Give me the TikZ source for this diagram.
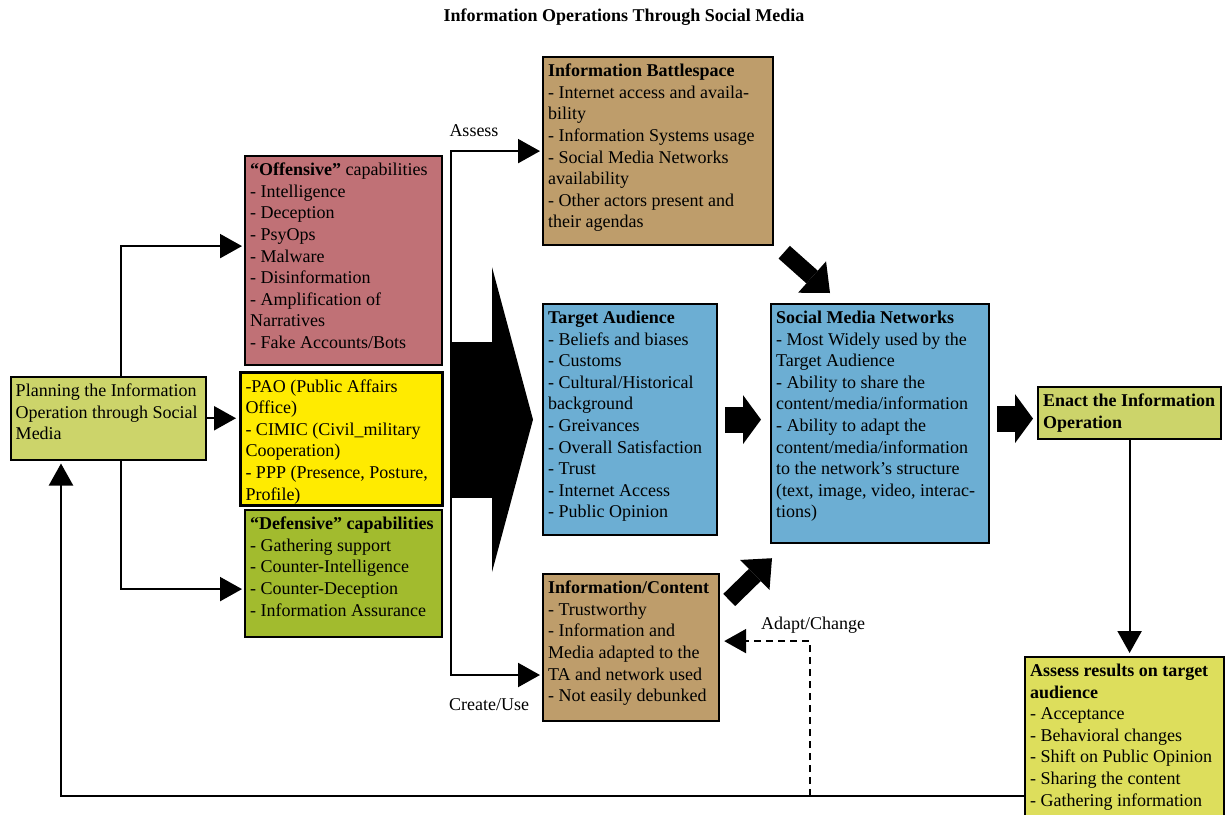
\documentclass[tikz,border=0pt]{standalone}
\usepackage{fontspec}
\setmainfont{Liberation Serif}
\usepackage{xcolor}
\usetikzlibrary{arrows.meta,calc}
\definecolor{planolive}{RGB}{204,212,106}
\definecolor{offrose}{RGB}{192,113,118}
\definecolor{paoyellow}{RGB}{255,235,0}
\definecolor{defgreen}{RGB}{162,187,46}
\definecolor{tanbrown}{RGB}{190,157,107}
\definecolor{skyblue}{RGB}{108,174,211}
\definecolor{assessyel}{RGB}{221,222,92}

\begin{document}
\begin{tikzpicture}[
  x=1pt, y=-1pt,
  font=\fontsize{18}{21.6}\selectfont,
  >={Triangle[length=22pt,width=24pt]},
  box/.style n args={2}{draw, line width=2.2pt, anchor=north west,
                        inner xsep=5pt, inner ysep=7pt,
                        execute at begin node={\begin{minipage}[t][#2][t]{#1}\raggedright},
                        execute at end node={\end{minipage}}},
  flow/.style    = {line width=2.2pt, ->},
  blockarr/.style = {line width=26pt, -{Triangle[length=18pt,width=49pt,line width=0pt]}},
  diagarr/.style  = {line width=17pt, -{Triangle[length=24pt,width=42pt,line width=0pt]}},
  bigarr/.style   = {line width=156pt, -{Triangle[length=41pt,width=305pt,line width=0pt]}},
  lbl/.style     = {inner sep=0pt}
]
\useasboundingbox (0,0) rectangle (1231,814);

\node[lbl, font=\fontsize{18}{21.6}\selectfont\bfseries] (title) at (624,17)
  {Information Operations Through Social Media};

% left column
\node[box={185pt}{69pt}, fill=planolive, line width=1.5pt] (plan) at (10,376)
  {Planning the Information\\Operation through Social\\Media};
\node[box={187pt}{195pt}, fill=offrose] (off) at (244,155)
  {\textbf{“Offensive”} capabilities\\- Intelligence\\- Deception\\- PsyOps\\- Malware\\- Disinformation\\- Amplification of\\Narratives\\- Fake Accounts/Bots};
\node[box={192pt}{119pt}, fill=paoyellow, line width=3pt] (pao) at (239,371)
  {-PAO (Public Affairs\\Office)\\- CIMIC (Civil\_military\\Cooperation)\\- PPP (Presence, Posture,\\Profile)};
\node[box={187pt}{113pt}, fill=defgreen] (def) at (244,509)
  {\textbf{“Defensive” capabilities}\\- Gathering support\\- Counter-Intelligence\\- Counter-Deception\\- Information Assurance};

% middle column
\node[box={220pt}{174pt}, fill=tanbrown] (bat) at (542,56)
  {\textbf{Information Battlespace}\\- Internet access and availa-\\bility\\- Information Systems usage\\- Social Media Networks\\availability\\- Other actors present and\\their agendas};
\node[box={164pt}{217pt}, fill=skyblue] (ta) at (542,303)
  {\textbf{Target Audience}\\- Beliefs and biases\\- Customs\\- Cultural/Historical\\background\\- Greivances\\- Overall Satisfaction\\- Trust\\- Internet Access\\- Public Opinion};
\node[box={166pt}{133pt}, fill=tanbrown] (ic) at (542,573)
  {\textbf{Information/Content}\\- Trustworthy\\- Information and\\Media adapted to the\\TA and network used\\- Not easily debunked};
\node[box={208pt}{225pt}, fill=skyblue] (smn) at (770,303)
  {\textbf{Social Media Networks}\\- Most Widely used by the\\Target Audience\\- Ability to share the\\content/media/information\\- Ability to adapt the\\content/media/information\\to the network’s structure\\(text, image, video, interac-\\tions)};

% right column
\node[box={173pt}{38pt}, fill=planolive] (enact) at (1037,386)
  {\textbf{Enact the Information}\\\textbf{Operation}};
\node[box={189pt}{151pt}, fill=assessyel] (assess) at (1024,656)
  {\textbf{Assess results on target}\\\textbf{audience}\\- Acceptance\\- Behavioral changes\\- Shift on Public Opinion\\- Sharing the content\\- Gathering information};

\coordinate (fork) at (121,417);
\coordinate (rail) at (451,675);
\coordinate (back) at (61,796);
\coordinate (adapt) at (810,796);

\draw[flow, shorten >=2pt] (plan.north -| fork) |- ([yshift=14.5pt]off.west);
\draw[flow, shorten >=2pt] (plan.south -| fork) |- ([yshift=-15.5pt]def.west);
\draw[flow, shorten >=3pt] (plan.east) -- (plan.east -| pao.west);

\draw[line width=2.2pt, <->, shorten <=2pt, shorten >=2pt]
  (bat.west) -- (bat.west -| rail) |- (ic.west |- rail);
\node[lbl] (assessLbl) at (474,131) {Assess};
\node[lbl] (createLbl) at (489,705) {Create/Use};

\draw[bigarr, shorten >=9pt] (ta.west -| rail) -- (ta.west);
\draw[blockarr, shorten <=7pt, shorten >=9pt] (ta.east) -- (ta.east -| smn.west);
\draw[blockarr, shorten <=7pt, shorten >=4pt] ([yshift=5pt]smn.east) -- ([yshift=5pt]smn.east -| enact.west);
\draw[diagarr] ([shift={(10,6)}]bat.south east) -- ([shift={(60,-10)}]smn.north west);
\draw[diagarr] ([shift={(9,27)}]ic.north east) -- ([shift={(2,14)}]smn.south west);

\draw[flow, shorten >=3pt] (enact.south) -- (enact.south |- assess.north);
\draw[flow, shorten >=3pt] (assess.west |- back) -- (back) -- (plan.south -| back);
\draw[flow, dash pattern=on 7pt off 5pt, shorten >=4pt] (adapt) |- ([yshift=6.5pt]ic.east);
\node[lbl] (adaptLbl) at (813,625) {Adapt/Change};
\end{tikzpicture}
\end{document}
